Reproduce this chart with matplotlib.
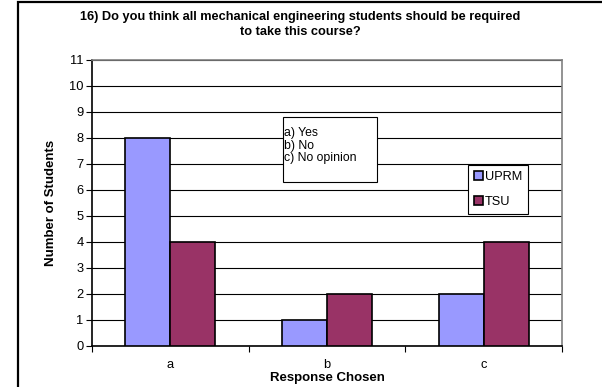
import numpy as np
import matplotlib.pyplot as plt
from matplotlib.patches import Rectangle

plt.rcParams['font.family'] = ['Liberation Sans', 'DejaVu Sans']

categories = ['a', 'b', 'c']
uprm = [8, 1, 2]
tsu = [4, 2, 4]
series_names = ['UPRM', 'TSU']
answers = ['a) Yes', 'b) No', 'c) No opinion']
title_lines = ['16) Do you think all mechanical engineering students should be required',
               'to take this course?']

fig = plt.figure(figsize=(6.02, 3.87), dpi=100)
# plot area in pixels: x 92..562, y 60..346
ax = fig.add_axes([92 / 602, 1 - 346 / 387, 470 / 602, 286 / 387])

# outer chart frame
fig.patches.append(Rectangle((18 / 602, -0.05), 1.2, (385 / 387) + 0.05,
                             transform=fig.transFigure, fill=False,
                             edgecolor='black', linewidth=1.6))

x = np.arange(len(categories))
w = 0.287
ax.bar(x - w / 2, uprm, w, color='#9999FF', edgecolor='black', linewidth=1.2,
       label=series_names[0], zorder=3)
ax.bar(x + w / 2, tsu, w, color='#993366', edgecolor='black', linewidth=1.2,
       label=series_names[1], zorder=3)

ax.set_xlim(-0.5, 2.5)
ax.set_ylim(0, 11)
ax.set_yticks(range(12))
ax.set_xticks([-0.5, 0.5, 1.5, 2.5])
ax.set_xticklabels([])
ax.set_xticks(x, minor=True)
ax.set_xticklabels(categories, minor=True)
ax.tick_params(axis='x', which='minor', length=0, pad=9, labelsize=9.3)
ax.tick_params(axis='x', which='major', direction='out', length=4, width=0.8)
ax.tick_params(axis='y', direction='out', length=4, width=0.8, labelsize=9.3, pad=2)
ax.grid(axis='y', color='black', linewidth=0.8, zorder=0)

for side in ['top', 'right']:
    ax.spines[side].set_color('#808080')
    ax.spines[side].set_linewidth(1.2)
ax.spines['left'].set_linewidth(1.2)
ax.spines['bottom'].set_linewidth(1.2)

ax.set_xlabel('Response Chosen', fontsize=9.5, fontweight='bold', labelpad=1)
ax.set_ylabel('Number of Students', fontsize=9.5, fontweight='bold', labelpad=9)

for i, line in enumerate(title_lines):
    fig.text(300 / 602, 1 - (17 + 15 * i) / 387, line, ha='center', va='center',
             fontsize=9.2, fontweight='bold')

# answer key box
ax.add_patch(Rectangle((283 / 602, 1 - 182 / 387), 94 / 602, 65 / 387,
                       transform=fig.transFigure, facecolor='white',
                       edgecolor='black', linewidth=0.8, zorder=4, clip_on=False))
for i, line in enumerate(answers):
    ax.text(284 / 602, 1 - (133.5 + 12 * i) / 387, line, transform=fig.transFigure,
            ha='left', va='center', fontsize=8.8, zorder=5)

leg = ax.legend(loc='upper left', bbox_to_anchor=(468 / 602, 1 - 165 / 387),
                bbox_transform=fig.transFigure, fontsize=9.2, frameon=True,
                fancybox=False, edgecolor='black', framealpha=1,
                handlelength=0.7, handleheight=0.7, handletextpad=0.15,
                borderpad=0.45, labelspacing=1.05, borderaxespad=0)
leg.get_frame().set_linewidth(0.8)

fig.savefig('out.png', dpi=100)
